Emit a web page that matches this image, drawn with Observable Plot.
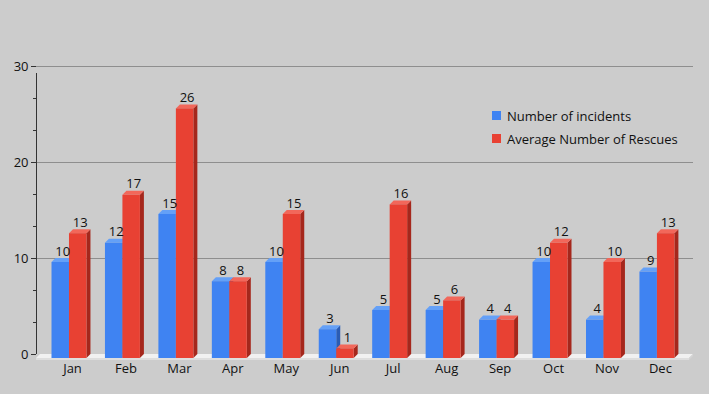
<!DOCTYPE html>
<html>
<head>
<meta charset="utf-8">
<script src="https://cdn.jsdelivr.net/npm/d3@7"></script>
<script src="https://cdn.jsdelivr.net/npm/@observablehq/plot@0.6"></script>
<style>
  html, body { margin: 0; padding: 0; background: #cccccc; }
  #wrap { position: relative; width: 709px; height: 394px; background: #cccccc; font-family: "Open Sans", sans-serif; }
  #legend { position: absolute; left: 492px; top: 104px; font-size: 13px; color: #111; }
  #legend div { display: flex; align-items: center; height: 23px; }
  #legend span.sw { display: inline-block; width: 9px; height: 9px; margin-right: 6px; }
</style>
</head>
<body>
<div id="wrap"><div id="legend"></div></div>
<script>
const months = ["Jan","Feb","Mar","Apr","May","Jun","Jul","Aug","Sep","Oct","Nov","Dec"];
const incidents = [10,12,15,8,10,3,5,5,4,10,4,9];
const rescues = [13,17,26,8,15,1,16,6,4,12,10,13];
const seriesNames = ["Number of incidents","Average Number of Rescues"];
const yTicks = [0,10,20,30];

const palette = {
  "Number of incidents": {front:"#3f83f2", top:"#64a0f7", side:"#2a5cb5"},
  "Average Number of Rescues": {front:"#e84133", top:"#f2675a", side:"#a5271c"}
};

const barW = 0.327;
const data = [];
months.forEach((m, i) => {
  data.push({month:m, i, series:seriesNames[0], value:incidents[i], x1:i-barW, x2:i});
  data.push({month:m, i, series:seriesNames[1], value:rescues[i], x1:i, x2:i+barW});
});
const minorTicks = d3.range(0, 31).map(k => k * 10/3).filter(v => v <= 30 && yTicks.every(t => Math.abs(t - v) > 0.01));

const depth = 4;

function floorMark(index, scales, values, dimensions) {
  const {x, y} = scales;
  const [d0, d1] = x.domain();
  const X0 = x(d0), X1 = x(d1), Y0 = y(0);
  const g = d3.create("svg:g");
  g.append("polygon")
    .attr("points", [[X0, Y0+depth],[X1-depth, Y0+depth],[X1, Y0],[X0+depth, Y0]].map(p=>p.join(",")).join(" "))
    .attr("fill", "#f1f1f1");
  g.append("polygon")
    .attr("points", [[X0, Y0+depth],[X1-depth, Y0+depth],[X1-depth, Y0+depth+2],[X0, Y0+depth+2]].map(p=>p.join(",")).join(" "))
    .attr("fill", "#dedede");
  g.append("polygon")
    .attr("points", [[X1-depth, Y0+depth],[X1, Y0],[X1, Y0+2],[X1-depth, Y0+depth+2]].map(p=>p.join(",")).join(" "))
    .attr("fill", "#d4d4d4");
  return g.node();
}

function bars3d(index, scales) {
  const {x, y} = scales;
  const g = d3.create("svg:g");
  const Y0 = y(0);
  for (const d of data) {
    const c = palette[d.series];
    const X1 = x(d.x1), X2 = x(d.x2), Y = y(d.value);
    const pts = a => a.map(p => p.join(",")).join(" ");
    g.append("polygon").attr("fill", c.side)
      .attr("points", pts([[X2, Y+depth],[X2+depth, Y],[X2+depth, Y0],[X2, Y0+depth]]));
    g.append("polygon").attr("fill", c.top)
      .attr("points", pts([[X1, Y+depth],[X2, Y+depth],[X2+depth, Y],[X1+depth, Y]]));
    g.append("rect").attr("fill", c.front)
      .attr("x", X1).attr("y", Y+depth).attr("width", X2-X1).attr("height", Math.max(0, Y0 - Y));
  }
  return g.node();
}

const chart = Plot.plot({
  width: 709,
  height: 394,
  marginLeft: 36,
  marginRight: 16,
  marginTop: 66,
  marginBottom: 40,
  style: {background: "#cccccc", fontFamily: "Open Sans, sans-serif", fontSize: "13px", color: "#111"},
  x: {type: "linear", domain: [-0.617, 11.675], label: null},
  y: {domain: [0, 30], label: null},
  marks: [
    Plot.gridY(yTicks.filter(t => t > 0), {stroke: "#8e8e8e", strokeOpacity: 1, strokeWidth: 1}),
    floorMark,
    bars3d,
    Plot.ruleX([-0.617], {y1: 0, y2: 30, stroke: "#333", strokeWidth: 1, insetBottom: -7}),
    Plot.axisY(yTicks, {tickSize: 5, tickPadding: 3, stroke: "#333", fill: "#111", fontSize: 13, label: null, tickFormat: d => String(d)}),
    Plot.axisY(minorTicks, {tickSize: 3, stroke: "#333", text: null, label: null}),
    Plot.axisX(d3.range(12), {tickSize: 0, tickPadding: 9, tickFormat: i => months[i], fontSize: 13, dx: 3, fill: "#111", label: null}),
    Plot.text(data, {x: d => (d.x1 + d.x2) / 2, y: "value", text: d => String(d.value), dy: -7, dx: 2, fontSize: 13, fill: "#111"})
  ]
});

const wrap = document.getElementById("wrap");
wrap.insertBefore(chart, wrap.firstChild);

const legend = document.getElementById("legend");
seriesNames.forEach(s => {
  const row = document.createElement("div");
  const sw = document.createElement("span");
  sw.className = "sw";
  sw.style.background = palette[s].front;
  row.appendChild(sw);
  row.appendChild(document.createTextNode(s));
  legend.appendChild(row);
});
</script>
</body>
</html>
